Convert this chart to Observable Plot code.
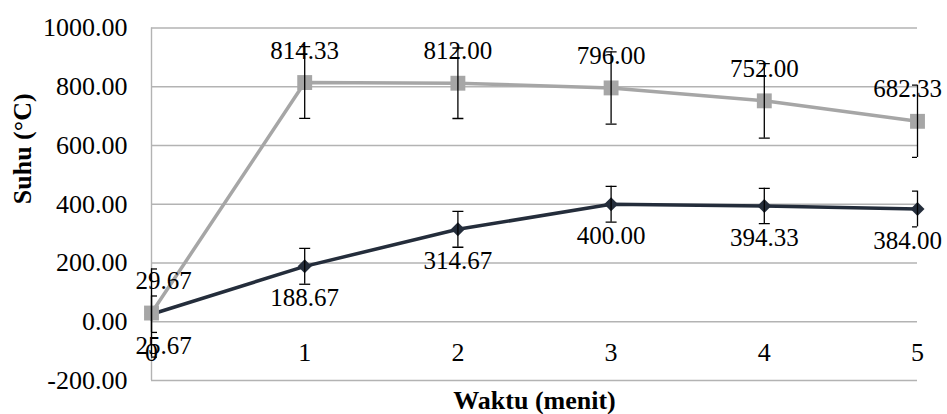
<!DOCTYPE html>
<html>
<head>
<meta charset="utf-8">
<script src="https://cdn.jsdelivr.net/npm/d3@7"></script>
<script src="https://cdn.jsdelivr.net/npm/@observablehq/plot@0.6"></script>
<style>
  html, body { margin: 0; padding: 0; background: #fff; }
  #chart svg { display: block; font-family: "Liberation Serif", "Times New Roman", serif !important; }
  #chart svg text { font-family: "Liberation Serif", "Times New Roman", serif !important; }
</style>
</head>
<body>
<div id="chart"></div>
<script>
// Data
const waktu = [0, 1, 2, 3, 4, 5];
const suhuAtas = [29.67, 814.33, 812.00, 796.00, 752.00, 682.33];   // grey series (squares)
const errAtas = [150, 122, 120, 123, 127, 123];
const suhuBawah = [25.67, 188.67, 314.67, 400.00, 394.33, 384.00];  // dark series (diamonds)
const errBawah = [62, 61, 61, 61, 60, 61];
const yTicks = [-200, 0, 200, 400, 600, 800, 1000];
const xTicks = [0, 1, 2, 3, 4, 5];

const grey = "#a6a6a6";
const dark = "#242d3b";
const font = "Liberation Serif";

const seriesA = waktu.map((x, i) => ({x, v: suhuAtas[i], e: errAtas[i], i}));
const seriesB = waktu.map((x, i) => ({x, v: suhuBawah[i], e: errBawah[i], i}));
const last = waktu.length - 1;

const capSymbol = {
  draw(context) {
    context.moveTo(-5.5, 0);
    context.lineTo(5.5, 0);
  }
};

function errorMarks(data) {
  return [
    Plot.ruleX(data, {x: "x", y1: d => d.v - d.e, y2: d => d.v + d.e, stroke: "#000", strokeWidth: 1.3}),
    Plot.dot(data, {x: "x", y: d => d.v + d.e, symbol: capSymbol, stroke: "#000", strokeWidth: 1.3, fill: "none", clip: "frame"}),
    Plot.dot(data, {x: "x", y: d => d.v - d.e, symbol: capSymbol, stroke: "#000", strokeWidth: 1.3, fill: "none", clip: "frame"})
  ];
}

function labelMarks(data, dy) {
  const fmt = d => d.v.toFixed(2);
  const common = {x: "x", y: "v", text: fmt, dy, fontSize: 25, fontFamily: font, fill: "#000", lineAnchor: "middle"};
  return [
    Plot.text(data.filter(d => d.i > 0 && d.i < last), common),
    Plot.text(data.filter(d => d.i === 0), {...common, dx: 12}),
    Plot.text(data.filter(d => d.i === last), {...common, dx: -10})
  ];
}

const chart = Plot.plot({
  width: 947,
  height: 414,
  marginLeft: 151,
  marginRight: 30,
  marginTop: 27.5,
  marginBottom: 34,
  style: {fontFamily: font, background: "#fff", color: "#000"},
  x: {domain: [0, 5], axis: null},
  y: {domain: [-200, 1000], axis: null},
  marks: [
    Plot.ruleY(yTicks, {stroke: "#b3b3b3", strokeWidth: 1.4}),
    Plot.ruleX([0], {stroke: "#b3b3b3", strokeWidth: 1.4}),
    Plot.axisY(yTicks, {tickSize: 0, tickPadding: 24, fontSize: 26, fontFamily: font, tickFormat: d => d.toFixed(2), label: null}),
    Plot.text(xTicks, {x: d => d, y: () => 0, text: d => String(d), dy: 31, fontSize: 26, fontFamily: font, lineAnchor: "middle"}),
    Plot.text(["Waktu (menit)"], {frameAnchor: "bottom", dy: 20, lineAnchor: "middle", fontSize: 26, fontFamily: font, fontWeight: "bold"}),
    Plot.text(["Suhu (°C)"], {frameAnchor: "left", dx: -129, rotate: -90, lineAnchor: "middle", fontSize: 26, fontFamily: font, fontWeight: "bold"}),
    // dark series
    Plot.line(seriesB, {x: "x", y: "v", stroke: dark, strokeWidth: 3.5}),
    Plot.dot(seriesB, {x: "x", y: "v", symbol: "diamond2", r: 6.3, fill: dark, stroke: "none"}),
    // grey series
    Plot.line(seriesA, {x: "x", y: "v", stroke: grey, strokeWidth: 3.5}),
    Plot.dot(seriesA, {x: "x", y: "v", symbol: "square", r: 8.4, fill: grey, stroke: "none"}),
    ...errorMarks(seriesB),
    ...errorMarks(seriesA),
    ...labelMarks(seriesA, -32),
    ...labelMarks(seriesB, 32)
  ]
});

document.getElementById("chart").append(chart);
</script>
</body>
</html>
